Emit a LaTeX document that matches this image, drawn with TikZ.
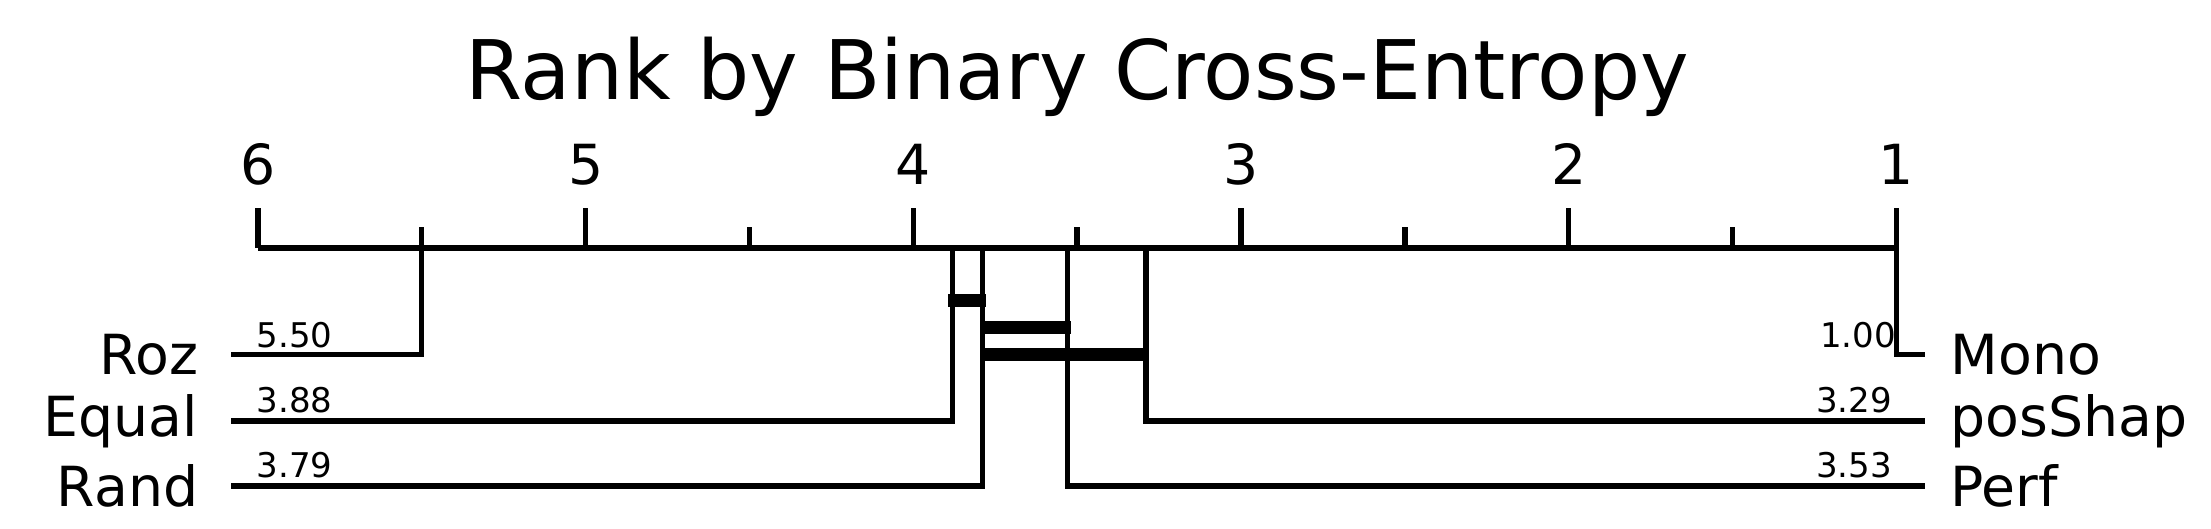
\documentclass[tikz,border=0pt]{standalone}
\usepackage{fontspec}
\setmainfont{DejaVu Sans}
\begin{document}
\begin{tikzpicture}[x=1pt,y=-1pt,
  ln/.style={line width=3.8pt},
  bar/.style={line width=9pt},
  tick/.style={font=\fontsize{39}{40}\selectfont,anchor=base},
  nm/.style={font=\fontsize{39}{40}\selectfont,inner sep=0pt},
  num/.style={font=\fontsize{24}{26}\selectfont,inner sep=0pt,anchor=base}]
\useasboundingbox (0,0) rectangle (1560,372.6);
\node[font=\fontsize{58}{60}\selectfont,anchor=base] (title) at (760,70) {Rank by Binary Cross-Entropy};
% axis
\coordinate (a6) at (182,175); \coordinate (a1) at (1338,175);
\draw[ln] (a6) -- (a1);
\foreach \r/\n in {6/t6,5/t5,4/t4,3/t3,2/t2,1/t1}{
  \draw[ln] (182+231.2*6-231.2*\r,175) -- ++(0,-28);
  \node[tick] (\n) at (182+231.2*6-231.2*\r,130) {\r};
}
\foreach \r in {5.5,4.5,3.5,2.5,1.5}{
  \draw[ln] (182+231.2*6-231.2*\r,175) -- ++(0,-15);
}
% left methods
\coordinate (roz) at (297.6,175); \coordinate (rozE) at (163,250);
\draw[ln] (roz) |- (rozE);
\node[nm,anchor=east] (Roz) at (140,250) {Roz};
\coordinate (eq) at (672,175); \coordinate (eqE) at (163,297);
\draw[ln] (eq) |- (eqE);
\node[nm,anchor=east] (Equal) at (140,297) {Equal};
\coordinate (ra) at (693,175); \coordinate (raE) at (163,343);
\draw[ln] (ra) |- (raE);
\node[nm,anchor=east] (Rand) at (140,343) {Rand};
% right methods
\coordinate (mo) at (1338,175); \coordinate (moE) at (1358,250);
\draw[ln] (mo) |- (moE);
\node[nm,anchor=west] (Mono) at (1376,250) {Mono};
\coordinate (ps) at (808.6,175); \coordinate (psE) at (1358,297);
\draw[ln] (ps) |- (psE);
\node[nm,anchor=west] (posShap) at (1376,297) {posShap};
\coordinate (pe) at (753,175); \coordinate (peE) at (1358,343);
\draw[ln] (pe) |- (peE);
\node[nm,anchor=west] (Perf) at (1376,343) {Perf};
% numbers
\node[num,anchor=base west] (n1) at (181,245) {5.50};
\node[num,anchor=base west] (n2) at (181,291) {3.88};
\node[num,anchor=base west] (n3) at (181,337) {3.79};
\node[num,anchor=base east] (n4) at (1338,245) {1.00};
\node[num,anchor=base east] (n5) at (1335,291) {3.29};
\node[num,anchor=base east] (n6) at (1335,337) {3.53};
% cliques
\draw[bar] (669,212) -- (696,212);
\draw[bar] (692,231) -- (756,231);
\draw[bar] (692,250) -- (811,250);
\end{tikzpicture}
\end{document}
